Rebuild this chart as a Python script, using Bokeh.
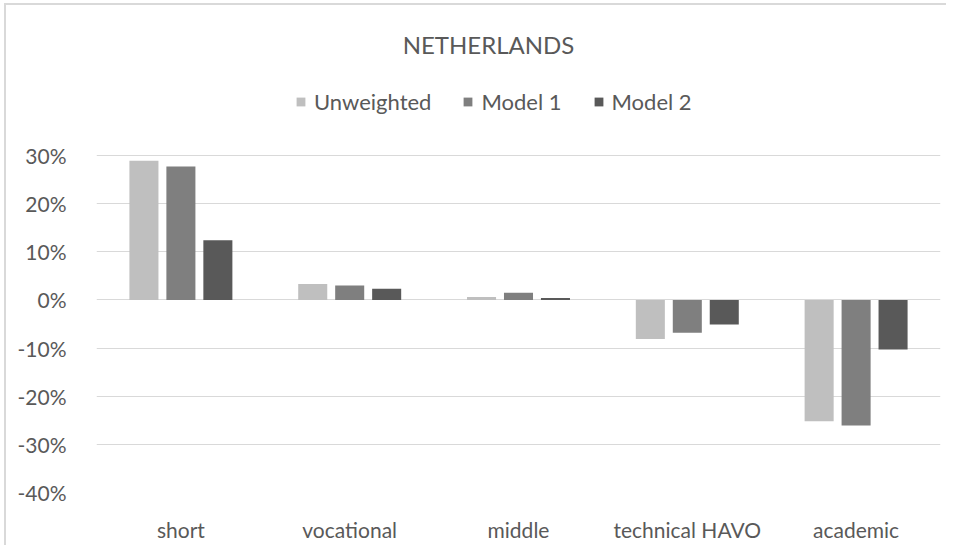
from bokeh.plotting import figure
from bokeh.models import (ColumnDataSource, FactorRange, Legend, LegendItem, NumeralTickFormatter,
                          FixedTicker, Range1d, Label)
from bokeh.transform import dodge
from bokeh.embed import file_html
from bokeh.resources import INLINE

categories = ["short", "vocational", "middle", "technical HAVO", "academic"]
series_names = ["Unweighted", "Model 1", "Model 2"]
unweighted = [0.289, 0.033, 0.006, -0.081, -0.252]
model1 = [0.277, 0.030, 0.015, -0.068, -0.261]
model2 = [0.124, 0.023, 0.004, -0.051, -0.103]
y_ticks = [-0.4, -0.3, -0.2, -0.1, 0.0, 0.1, 0.2, 0.3]
colors = ["#bfbfbf", "#7f7f7f", "#595959"]
title_text = "NETHERLANDS"

FONT = "Lato"
TXT = "#595959"

source = ColumnDataSource(dict(cat=categories, unweighted=unweighted, model1=model1, model2=model2))

# frame spans full height above the category labels; the top part holds title and legend
p = figure(x_range=FactorRange(*categories), y_range=Range1d(-0.4, 0.6116),
           width=942, height=542, output_backend="svg", toolbar_location=None,
           min_border_left=90, min_border_right=8, min_border_top=0, min_border_bottom=55)
# light chart-area border on the left and top edges only
p.styles = {"border-top": "2px solid #d9d9d9", "border-left": "2px solid #d9d9d9",
            "border-right": "0px none", "border-bottom": "0px none",
            "outline": "none", "box-shadow": "none",
            "margin-left": "4px", "margin-top": "3px"}

cols = ["unweighted", "model1", "model2"]
offsets = [-0.219, 0.0, 0.219]
renderers = []
for col, off, c in zip(cols, offsets, colors):
    r = p.vbar(x=dodge("cat", off, range=p.x_range), top=col, bottom=0, width=0.172,
               source=source, fill_color=c, line_color=None)
    renderers.append(r)

legend = Legend(items=[LegendItem(label=n, renderers=[r]) for n, r in zip(series_names, renderers)],
                orientation="horizontal", location=(199, 377),
                label_text_font=FONT, label_text_font_size="22px", label_text_color=TXT,
                glyph_width=11, glyph_height=11, label_standoff=8, spacing=31,
                border_line_color=None, background_fill_alpha=0, padding=0, margin=0)
p.add_layout(legend, "center")

title = Label(x=392, y=448, x_units="screen", y_units="screen", text=title_text,
              text_font=FONT, text_font_size="24px", text_color=TXT,
              text_align="center", text_baseline="middle")
p.add_layout(title)

p.yaxis.ticker = FixedTicker(ticks=y_ticks)
p.yaxis.formatter = NumeralTickFormatter(format="0%")
p.yaxis.axis_line_color = None
p.yaxis.major_tick_line_color = None
p.yaxis.minor_tick_line_color = None
p.yaxis.major_label_text_font = FONT
p.yaxis.major_label_text_font_size = "21px"
p.yaxis.major_label_text_color = TXT
p.yaxis.major_label_standoff = 24

p.xaxis.axis_line_color = None
p.xaxis.major_tick_line_color = None
p.xaxis.major_label_text_font = FONT
p.xaxis.major_label_text_font_size = "21px"
p.xaxis.major_label_text_color = TXT
p.xaxis.major_label_standoff = 18

p.xgrid.grid_line_color = None
p.ygrid.grid_line_color = "#d9d9d9"
p.ygrid.grid_line_width = 1
p.outline_line_color = None
p.background_fill_color = "white"
p.border_fill_color = "white"

open("out.html", "w").write(file_html(p, INLINE))
